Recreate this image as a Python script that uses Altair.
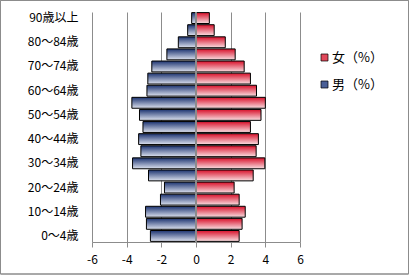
import altair as alt
import pandas as pd

ages = ["0～4歳", "5～9歳", "10～14歳", "15～19歳", "20～24歳", "25～29歳",
        "30～34歳", "35～39歳", "40～44歳", "45～49歳", "50～54歳", "55～59歳",
        "60～64歳", "65～69歳", "70～74歳", "75～79歳", "80～84歳", "85～89歳",
        "90歳以上"]
male = [2.63, 2.86, 2.91, 2.05, 1.82, 2.74, 3.66, 3.18, 3.31, 3.06, 3.26, 3.70,
        2.83, 2.78, 2.55, 1.68, 1.02, 0.48, 0.25]
female = [2.49, 2.66, 2.84, 2.49, 2.20, 3.30, 3.97, 3.47, 3.60, 3.14, 3.75, 4.00,
          3.49, 3.14, 2.78, 2.26, 1.69, 1.05, 0.77]
series = ["女（%）", "男（%）"]
x_ticks = [-6, -4, -2, 0, 2, 4, 6]
label_ages = ages[::2]

FONT = "Noto Sans CJK JP"

df = pd.DataFrame({"age": ages, "male": male, "female": female})
df["male_neg"] = -df["male"]
legend_df = pd.DataFrame({"series": series, "v": [0, 0], "age": [ages[0], ages[0]]})

y_axis = alt.Axis(values=label_ages, domain=False, ticks=False, grid=False,
                  labelPadding=14, labelFontSize=12, labelFont=FONT,
                  labelColor="#000000", labelOverlap=False)
y_enc = alt.Y("age:N", sort=list(reversed(ages)), title=None,
              scale=alt.Scale(paddingInner=0.1, paddingOuter=0.05), axis=y_axis)
x_scale = alt.Scale(domain=[-6, 6], nice=False, zero=False)
x_axis = alt.Axis(values=x_ticks, grid=True, gridColor="#8c8c8c", gridWidth=1,
                  domainColor="#8c8c8c", tickColor="#8c8c8c", tickSize=5,
                  labelPadding=7, labelFontSize=12, labelFont=FONT,
                  labelColor="#000000", labelExpr="'' + datum.value",
                  labelOverlap=False, labelFlush=False, title=None)

red_grad = alt.LinearGradient(gradient="linear", x1=0, x2=0, y1=0, y2=1,
                              stops=[alt.GradientStop(color="#d8102a", offset=0),
                                     alt.GradientStop(color="#f9dfe2", offset=1)])
blue_grad = alt.LinearGradient(gradient="linear", x1=0, x2=0, y1=0, y2=1,
                               stops=[alt.GradientStop(color="#1c3370", offset=0),
                                      alt.GradientStop(color="#dde2ef", offset=1)])

base = alt.Chart(df)
fem = base.mark_bar(fill=red_grad, stroke="#000000", strokeWidth=1).encode(
    x=alt.X("female:Q", scale=x_scale, axis=x_axis, title=None), x2=alt.datum(0), y=y_enc)
mal = base.mark_bar(fill=blue_grad, stroke="#000000", strokeWidth=1).encode(
    x=alt.X("male_neg:Q", scale=x_scale, axis=x_axis, title=None), x2=alt.datum(0), y=y_enc)
zero = base.mark_rule(color="#8c8c8c", strokeWidth=1).encode(
    x=alt.XDatum(0, scale=x_scale, axis=x_axis, title=None))

legend_layer = alt.Chart(legend_df).mark_square(opacity=0).encode(
    x=alt.X("v:Q", scale=x_scale, axis=x_axis, title=None),
    y=alt.Y("age:N", sort=list(reversed(ages)), title=None, axis=y_axis),
    color=alt.Color("series:N", scale=alt.Scale(domain=series, range=["#e0485a", "#4a5f96"]),
                    legend=alt.Legend(title=None, orient="none", legendX=226, legendY=39,
                                      symbolType="square", symbolSize=49, symbolOpacity=1,
                                      symbolStrokeColor="#000000", symbolStrokeWidth=0.7,
                                      labelFontSize=13, labelFont=FONT, labelColor="#000000",
                                      labelOffset=1, rowPadding=13, padding=0)))

border = alt.Chart(legend_df).mark_rect(fill=None, stroke="#8c8c8c", strokeWidth=1).encode(
    x=alt.value(-91.5), x2=alt.value(316.5), y=alt.value(-11.5), y2=alt.value(262))

chart = alt.layer(mal, fem, zero, legend_layer, border).properties(
    width=208, height=230,
    padding={"left": 92, "top": 12, "right": 110, "bottom": 36},
    autosize=alt.AutoSizeParams(type="none"),
    background="#ffffff",
).configure_view(stroke=None).configure_axisX(labelOverlap=False)

chart.save("out.html", embed_options={"renderer": "svg", "actions": False})
